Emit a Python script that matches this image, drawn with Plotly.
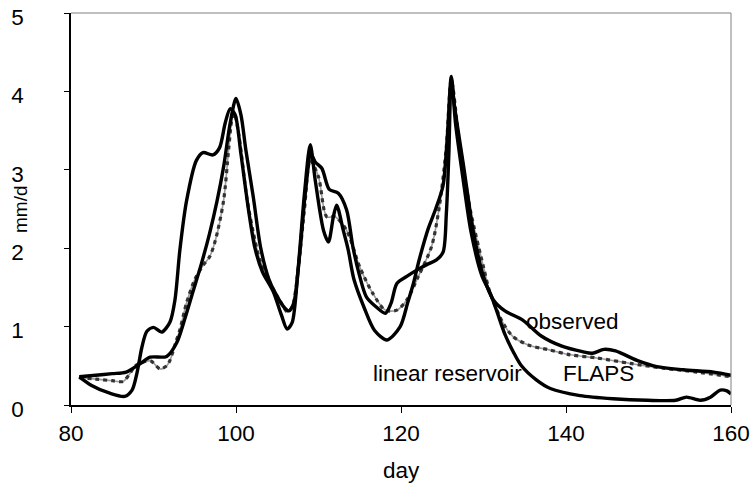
import plotly.graph_objects as go

# ---- data ----
obs_day = [81, 83, 85, 86.7, 88.4, 89.6, 91.6, 92.8, 93.8, 94.8, 95.8, 96.8, 97.7, 98.5, 99.3, 100,
           100.6, 101.2, 102.1, 103, 104, 104.8, 105.8, 106.4, 107, 107.7, 108.4, 109.1, 109.6,
           110.4, 111.3, 112.4, 113.4, 114.2, 115, 115.8, 117, 118.1, 118.8, 119.5, 120.7, 121.9,
           123.3, 124.3, 125.1, 125.5, 125.8, 126.1, 126.5, 127.6, 128.8, 130, 131.2, 132.6,
           134.8, 137, 139.5, 142, 143.2, 144.6, 146, 148.6, 151, 154.2, 157.9, 160]
obs_val = [0.36, 0.38, 0.40, 0.42, 0.53, 0.61, 0.62, 0.79, 1.1, 1.45, 1.8, 2.19, 2.6, 3.04, 3.6, 3.91,
           3.7, 3.25, 2.65, 2.0, 1.6, 1.42, 1.25, 1.2, 1.3, 1.9, 2.7, 3.2, 3.1,
           3.02, 2.75, 2.7, 2.49, 2.0, 1.64, 1.38, 1.25, 1.17, 1.3, 1.55, 1.64, 1.72,
           1.8, 1.85, 1.95, 2.45, 3.2, 4.15, 3.8, 3.04, 2.19, 1.64, 1.34, 1.2,
           1.08, 0.88, 0.75, 0.68, 0.66, 0.71, 0.69, 0.57, 0.49, 0.45, 0.42, 0.38]

lin_day = [81, 82.5, 84.7, 86.5, 87.4, 88, 88.6, 89.2, 90, 91, 92, 92.6, 93.2, 94, 95.2, 96, 97.2,
           98, 98.7, 99.3, 99.9, 100.6, 101.5, 102.3, 103.2, 104.5, 105.5, 106.2, 106.8, 107.5,
           108.3, 109, 109.6, 110.6, 111.2, 111.8, 112.2, 113, 113.6, 114.3, 115.5, 116.8, 118.3,
           119.9, 120.8, 121.5, 122.2, 123.3, 124.2, 125.1, 125.6, 126.1, 126.6, 127.5, 128.5,
           129.8, 130.8, 131.6, 132.6, 133.6, 134.6, 136.4, 138.1, 141.7, 145.7, 149.9, 153.3,
           154.6, 156.3, 157.5, 158.7, 159.5, 160]
lin_val = [0.36, 0.25, 0.15, 0.11, 0.19, 0.41, 0.74, 0.94, 0.99, 0.93, 1.06, 1.34, 1.98, 2.6, 3.12,
           3.22, 3.19, 3.28, 3.6, 3.78, 3.7, 3.2, 2.5, 2.0, 1.7, 1.45, 1.15, 0.97, 1.05, 1.7,
           2.7, 3.32, 2.87, 2.23, 2.08, 2.4, 2.55, 2.23, 1.98, 1.6, 1.25, 0.95, 0.83,
           1.0, 1.3, 1.55, 1.85, 2.25, 2.5, 2.8, 3.4, 4.19, 3.6, 2.9, 2.2,
           1.65, 1.43, 1.2, 0.9, 0.68, 0.5, 0.32, 0.21, 0.12, 0.08, 0.06, 0.06,
           0.1, 0.06, 0.1, 0.19, 0.18, 0.14]

flaps_day = [81, 83, 85, 86.3, 87, 87.8, 88.8, 89.7, 90.8, 91.6, 92, 92.7, 93.2, 94, 95, 96, 96.8,
             97.5, 98.5, 99.1, 99.5, 99.8, 100.4, 101.3, 102.1, 102.9, 104.5, 105.5, 106.2,
             106.8, 107.5, 108.3, 109, 110, 111, 112, 113.4, 115, 116.6, 118.1, 119.5, 120.7,
             122.1, 123.7, 124.7, 125.5, 126.1, 127, 128.4, 130, 130.8, 132.4, 133.6, 135.6,
             138.1, 140.5, 143.7, 147.8, 151.8, 155.9, 160]
flaps_val = [0.35, 0.33, 0.31, 0.30, 0.38, 0.5, 0.55, 0.56, 0.46, 0.5, 0.57, 0.8, 0.96, 1.3, 1.6,
             1.78, 1.89, 2.1, 2.61, 3.25, 3.64, 3.72, 3.4, 2.65, 2.2, 1.85, 1.48, 1.3, 1.19,
             1.25, 1.7, 2.5, 3.12, 2.91, 2.4, 2.4, 2.23, 1.76, 1.42, 1.21, 1.21, 1.34,
             1.64, 2.02, 2.57, 3.3, 4.15, 3.42, 2.49, 1.76, 1.43, 1.04, 0.87, 0.76,
             0.70, 0.64, 0.60, 0.53, 0.47, 0.42, 0.36]

x_ticks = [80, 100, 120, 140, 160]
y_ticks = [0, 1, 2, 3, 4, 5]

FONT = "Liberation Sans, Arial, sans-serif"
FS = 22.5

W, H = 751, 483
ML, MR, MT, MB = 71, 20, 13, 78
PW, PH = W - ML - MR, H - MT - MB

fig = go.Figure()
# FLAPS: grey line with dark dashes
fig.add_trace(go.Scatter(x=flaps_day, y=flaps_val, mode="lines", name="FLAPS",
                         line=dict(color="#9a9a9a", width=1.6, shape="spline", smoothing=0.8),
                         showlegend=False, hoverinfo="skip"))
fig.add_trace(go.Scatter(x=flaps_day, y=flaps_val, mode="lines", name="FLAPS",
                         line=dict(color="#333333", width=3.2, dash="4px,4px",
                                   shape="spline", smoothing=0.8),
                         showlegend=False))
fig.add_trace(go.Scatter(x=lin_day, y=lin_val, mode="lines", name="linear reservoir",
                         line=dict(color="black", width=3.4, shape="spline", smoothing=0.8),
                         showlegend=False))
fig.add_trace(go.Scatter(x=obs_day, y=obs_val, mode="lines", name="observed",
                         line=dict(color="black", width=3.4, shape="spline", smoothing=0.8),
                         showlegend=False))

fig.update_layout(
    width=W, height=H,
    margin=dict(l=ML, r=MR, t=MT, b=MB, autoexpand=False),
    paper_bgcolor="white", plot_bgcolor="white",
    font=dict(family=FONT, size=FS, color="black"),
    xaxis=dict(range=[80, 160], tickvals=x_ticks, ticks="outside", ticklen=6,
               tickcolor="black", showline=True, linecolor="black", linewidth=1.5,
               showgrid=False, zeroline=False, ticklabelstandoff=1, automargin=False,
               tickfont=dict(family=FONT, size=FS)),
    yaxis=dict(range=[0, 5], tickvals=y_ticks, ticks="outside", ticklen=5,
               tickcolor="black", showline=True, linecolor="black", linewidth=1.5,
               showgrid=False, zeroline=False, ticklabelstandoff=36, ticklabelshift=4,
               automargin=False, tickfont=dict(family=FONT, size=FS)),
    shapes=[
        dict(type="line", xref="paper", yref="paper", x0=0, x1=1, y0=1, y1=1,
             line=dict(color="#808080", width=1)),
        dict(type="line", xref="paper", yref="paper", x0=1, x1=1, y0=0, y1=1,
             line=dict(color="#808080", width=1)),
    ],
    annotations=[
        dict(text="day", xref="paper", yref="paper", x=0.5, y=-65 / PH,
             showarrow=False, xanchor="center", yanchor="middle"),
        dict(text="mm/d", xref="paper", yref="paper", x=-51 / PW, y=196 / PH,
             showarrow=False, textangle=-90, xanchor="center", yanchor="middle",
             font=dict(family=FONT, size=19)),
        dict(text="observed", xref="x", yref="y", x=134.9, y=1.07,
             showarrow=False, xanchor="left", yanchor="middle"),
        dict(text="linear reservoir", xref="x", yref="y", x=116.4, y=0.40,
             showarrow=False, xanchor="left", yanchor="middle"),
        dict(text="FLAPS", xref="x", yref="y", x=139.4, y=0.40,
             showarrow=False, xanchor="left", yanchor="middle"),
    ],
)

# remove the default 8px page margin so the figure fills the 751x483 window exactly
fig.write_html("out.html",
               config={"displayModeBar": False},
               post_script="document.body.style.margin='0';document.body.style.overflow='hidden';")
